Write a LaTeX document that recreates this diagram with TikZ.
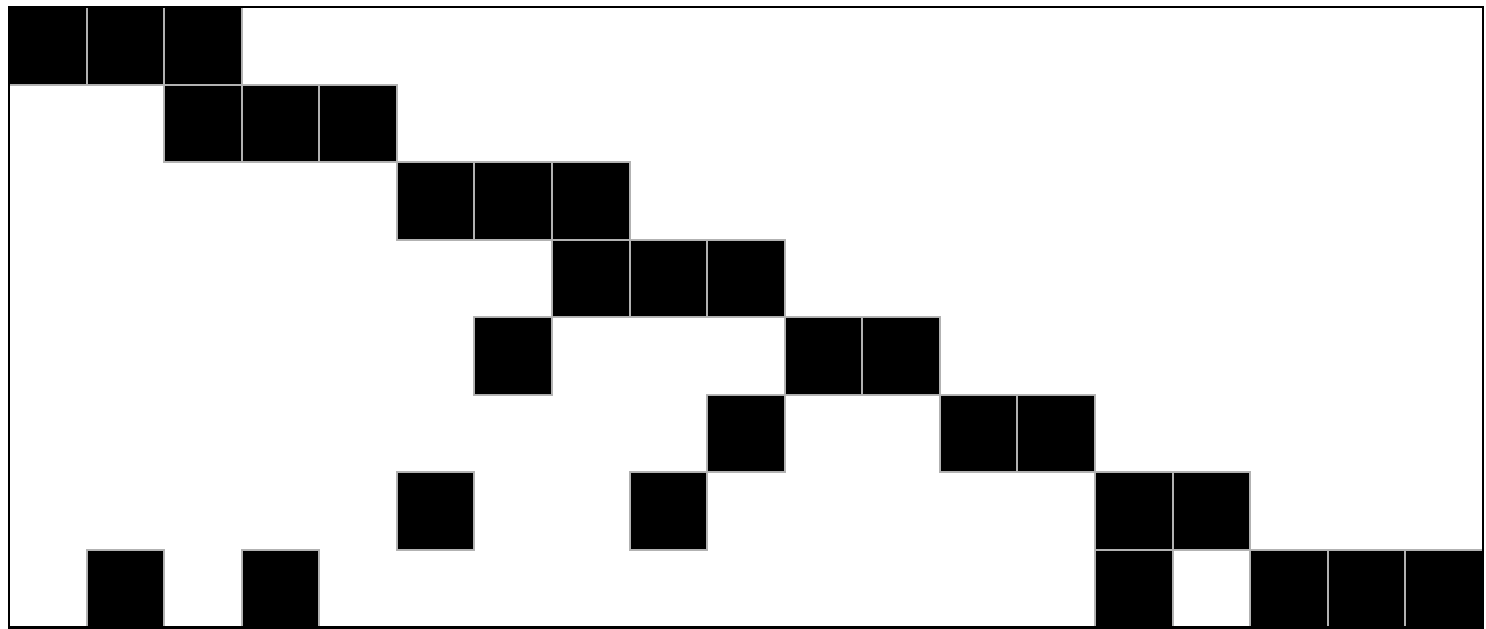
\documentclass[tikz,border=0pt]{standalone}
\usepackage{tikz}

\begin{document}
\begin{tikzpicture}[x=1cm, y=1cm,
	cell/.style={fill=black, draw=gray!60, line width=0.75pt}]

	\useasboundingbox (-0.116,-0.013) rectangle (19.04,8.09);

	% row 1
	\draw[cell] (0,7) rectangle (1,8);
	\draw[cell] (1,7) rectangle (2,8);
	\draw[cell] (2,7) rectangle (3,8);
	% row 2
	\draw[cell] (2,6) rectangle (3,7);
	\draw[cell] (3,6) rectangle (4,7);
	\draw[cell] (4,6) rectangle (5,7);
	% row 3
	\draw[cell] (5,5) rectangle (6,6);
	\draw[cell] (6,5) rectangle (7,6);
	\draw[cell] (7,5) rectangle (8,6);
	% row 4
	\draw[cell] (7,4) rectangle (8,5);
	\draw[cell] (8,4) rectangle (9,5);
	\draw[cell] (9,4) rectangle (10,5);
	% row 5
	\draw[cell] (6,3) rectangle (7,4);
	\draw[cell] (10,3) rectangle (11,4);
	\draw[cell] (11,3) rectangle (12,4);
	% row 6
	\draw[cell] (9,2) rectangle (10,3);
	\draw[cell] (12,2) rectangle (13,3);
	\draw[cell] (13,2) rectangle (14,3);
	% row 7
	\draw[cell] (5,1) rectangle (6,2);
	\draw[cell] (8,1) rectangle (9,2);
	\draw[cell] (14,1) rectangle (15,2);
	\draw[cell] (15,1) rectangle (16,2);
	% row 8
	\draw[cell] (1,0) rectangle (2,1);
	\draw[cell] (3,0) rectangle (4,1);
	\draw[cell] (14,0) rectangle (15,1);
	\draw[cell] (16,0) rectangle (17,1);
	\draw[cell] (17,0) rectangle (18,1);
	\draw[cell] (18,0) rectangle (19,1);

	\draw[line width=0.9pt] (0,0) rectangle (19,8);

\end{tikzpicture}
\end{document}
